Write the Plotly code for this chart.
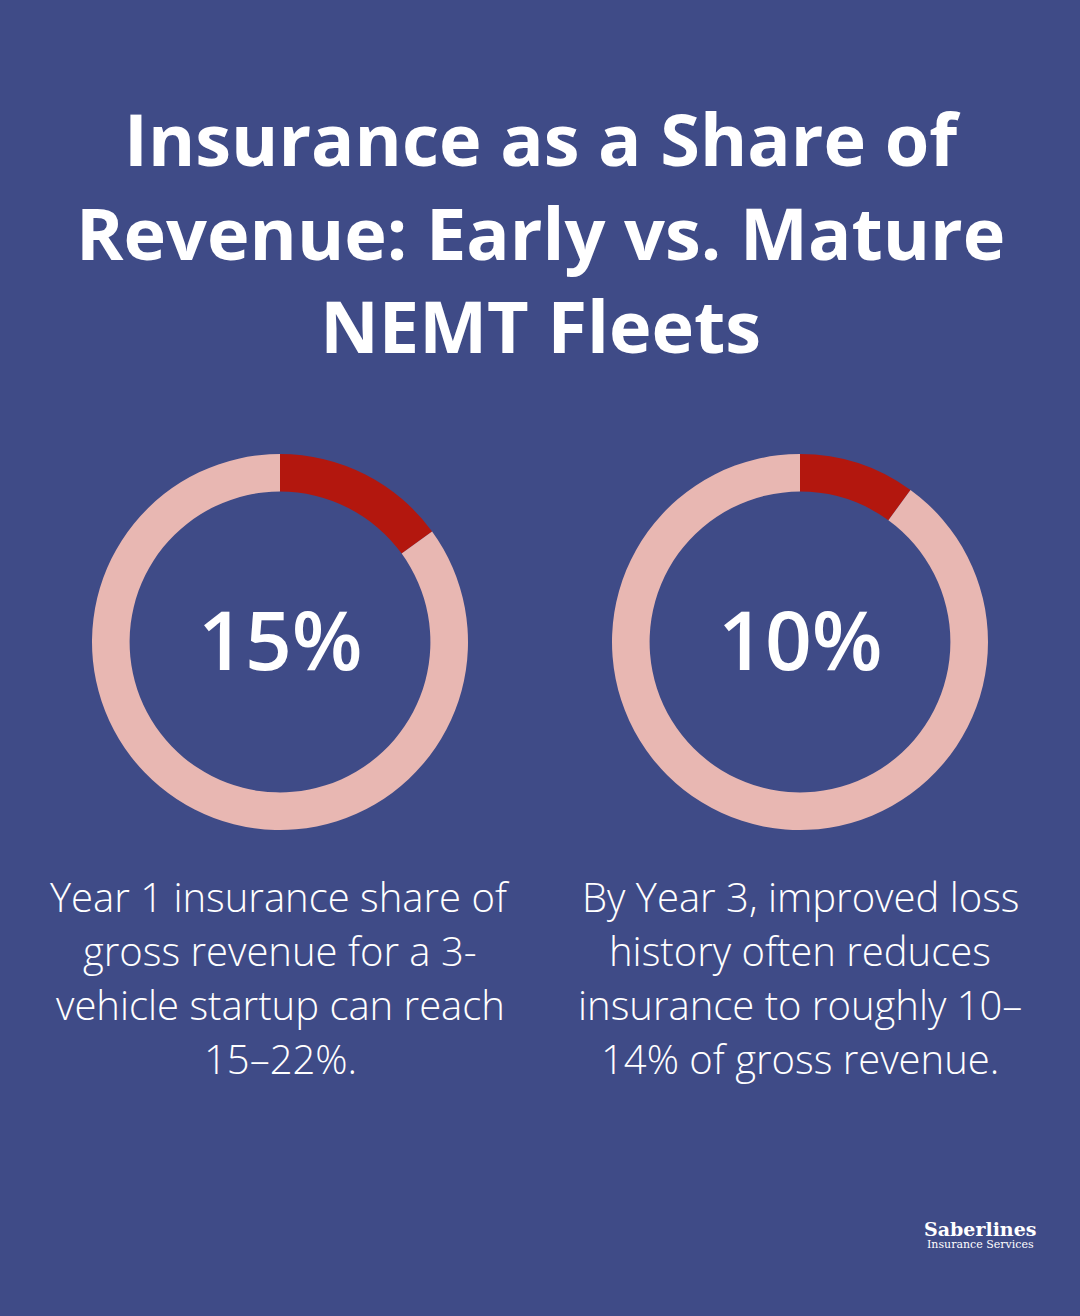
import plotly.graph_objects as go

W, H = 1080, 1316
labels = ["Insurance share", "Remainder"]
shares = [15, 10]
centers = ["15%", "10%"]
captions = [["Year 1 insurance share of", "gross revenue for a 3-", "vehicle startup can reach", "15–22%."],
            ["By Year 3, improved loss", "history often reduces", "insurance to roughly 10–", "14% of gross revenue."]]
cx = [280, 800]
R = 188
cy = 642

def ann(fig, x, y, text, size, family="Open Sans", weight="normal"):
    fig.add_annotation(x=x/W, y=1-y/H, xref="paper", yref="paper", text=text,
                       xanchor="center", yanchor="middle", align="center",
                       showarrow=False, font=dict(family=family, size=size, color="white", weight=weight))

fig = go.Figure()
for i, s in enumerate(shares):
    x0, x1 = (cx[i]-R)/W, (cx[i]+R)/W
    y0, y1 = 1-(cy+R)/H, 1-(cy-R)/H
    fig.add_trace(go.Pie(values=[s, 100-s], labels=labels, hole=0.8, sort=False,
                         direction="clockwise", rotation=0,
                         marker=dict(colors=["#B3170E", "#E8B7B2"], line=dict(width=0)),
                         textinfo="none", hoverinfo="skip", showlegend=False,
                         domain=dict(x=[x0, x1], y=[y0, y1])))
    ann(fig, cx[i], cy - 4, centers[i], 82, weight=600)
    for j, line in enumerate(captions[i]):
        ann(fig, cx[i], 896 + 54*j, line, 40, weight=300)

ann(fig, 540, 232, "<b>Insurance as a Share of<br>Revenue: Early vs. Mature<br>NEMT Fleets</b>", 72)
ann(fig, 980, 1229, "<b>Saberlines</b>", 19, "DejaVu Serif")
ann(fig, 980, 1244, "Insurance Services", 11, "DejaVu Serif")

fig.update_layout(width=W, height=H, margin=dict(l=0, r=0, t=0, b=0),
                  paper_bgcolor="#3F4B87", plot_bgcolor="#3F4B87")
fig.write_html("out.html", config={"displayModeBar": False},
               post_script="document.body.style.margin='0';")
